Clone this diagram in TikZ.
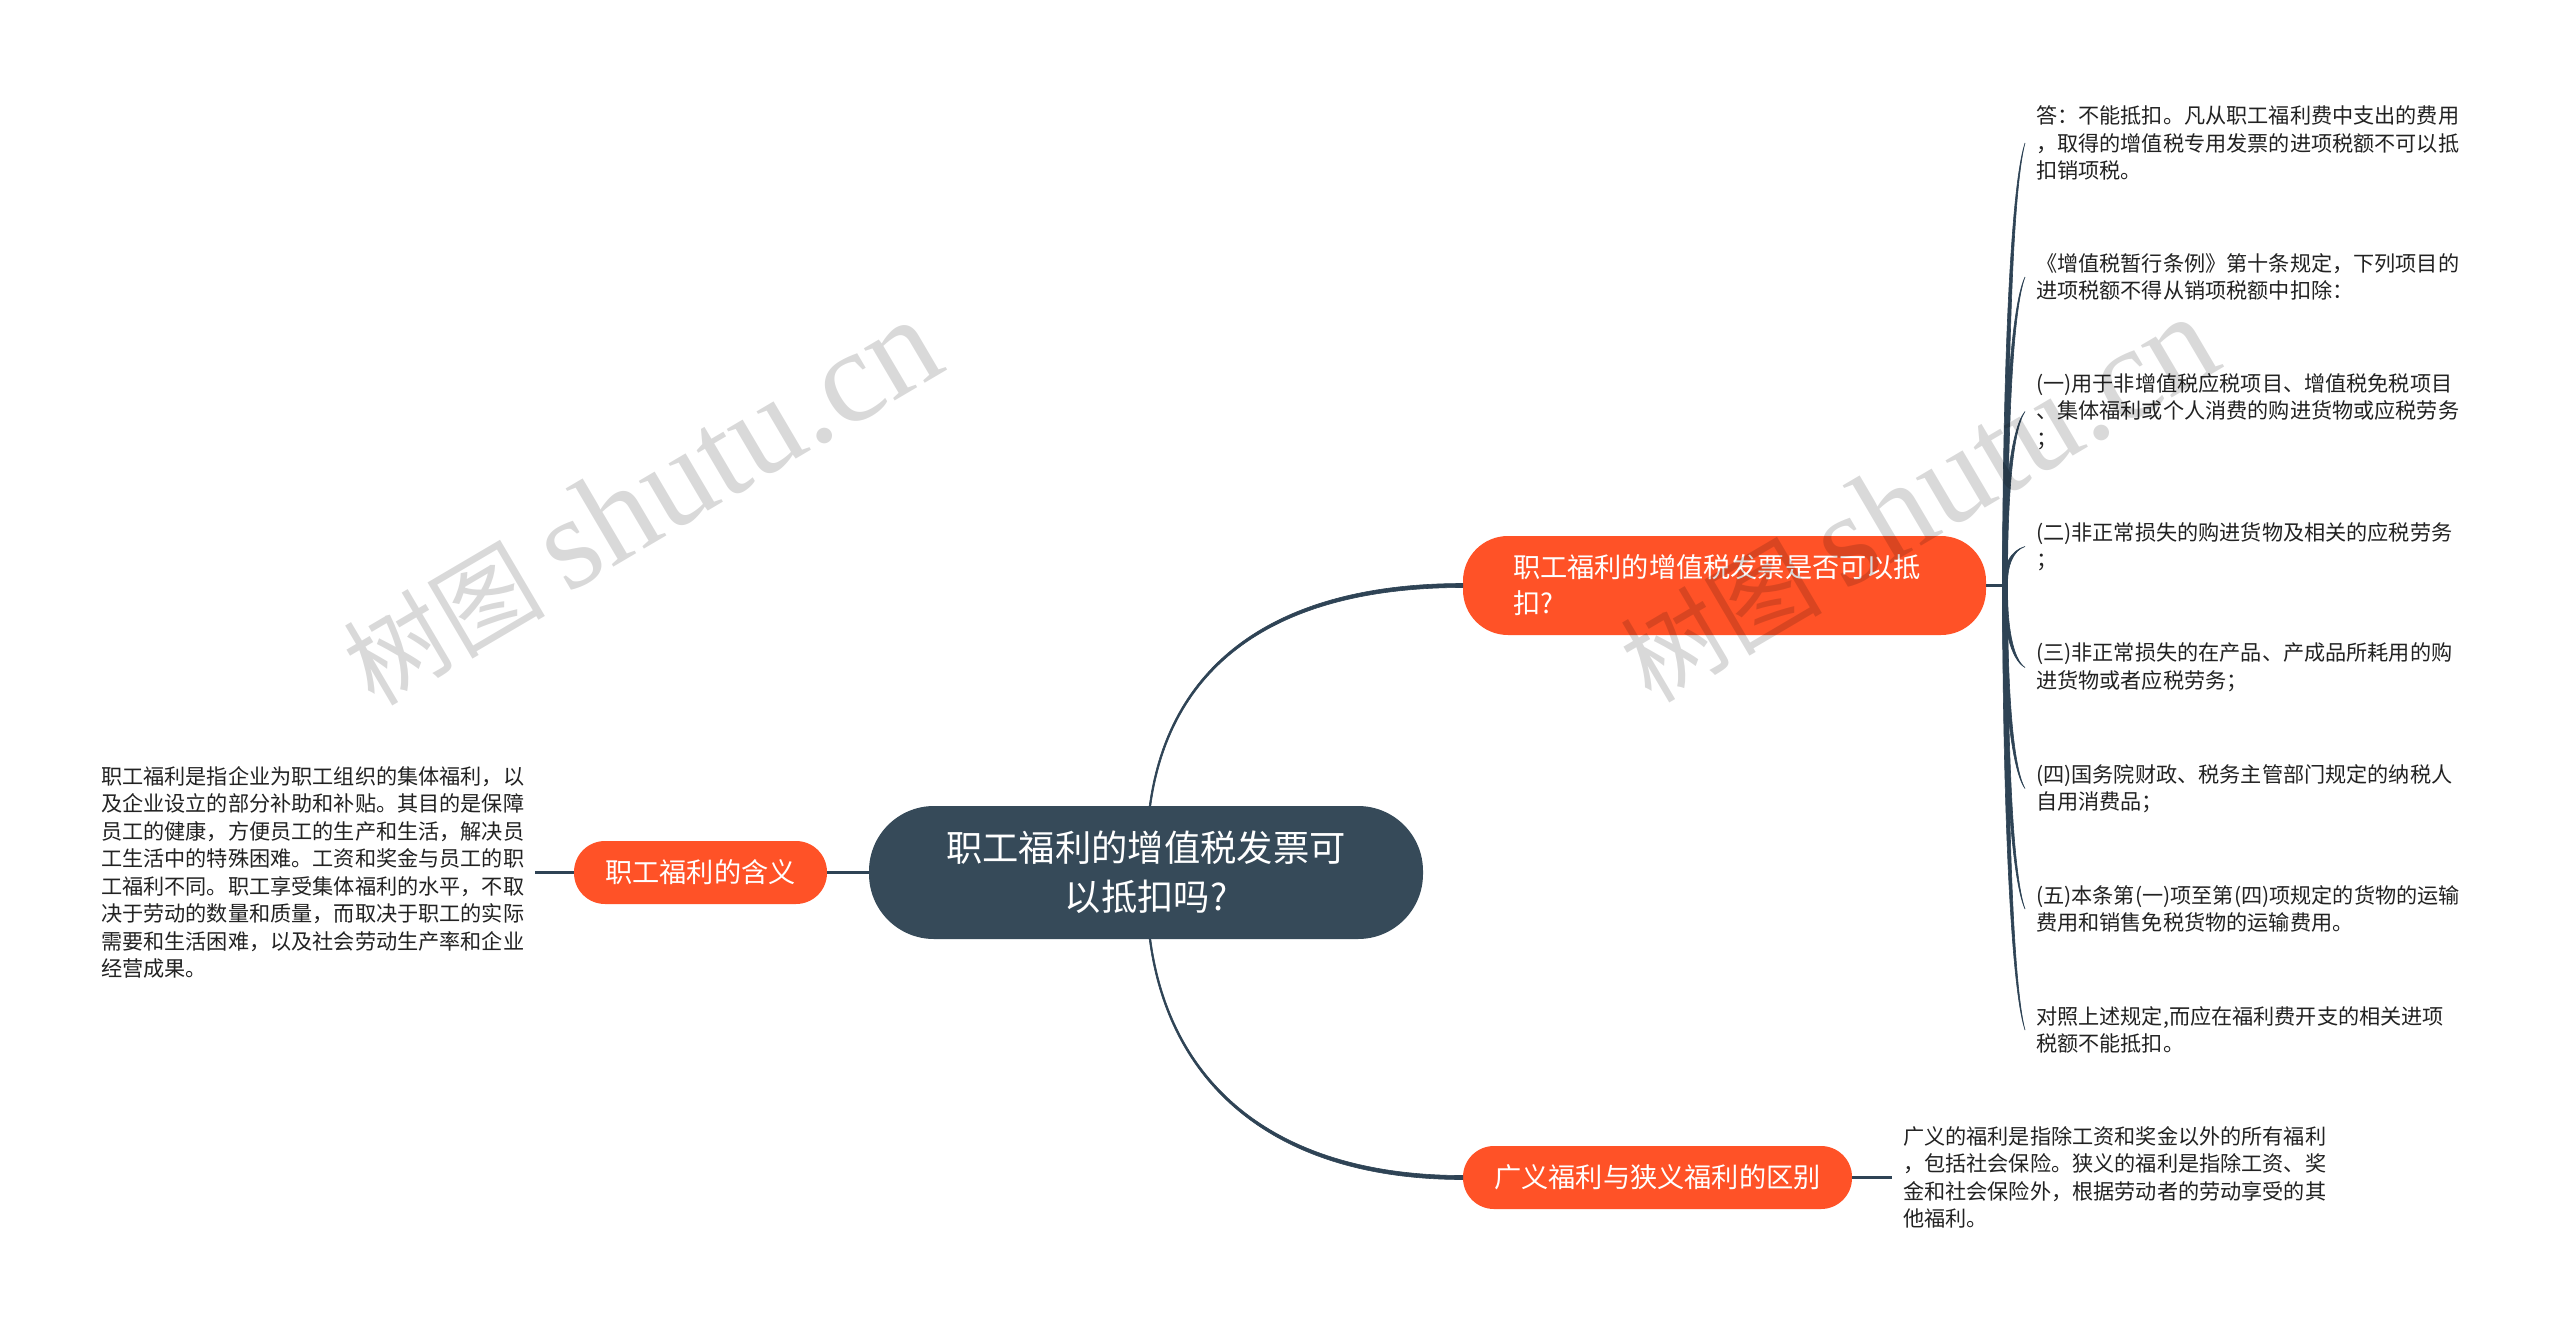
\documentclass[tikz,border=0pt]{standalone}
\usepackage{fontspec}
\setmainfont{Noto Sans CJK SC}
\newfontfamily\wmlat{Liberation Serif}
\usetikzlibrary{calc}
\definecolor{mainc}{HTML}{364A59}
\definecolor{orangec}{HTML}{FF5227}
\definecolor{linkc}{HTML}{2E4355}
\definecolor{leaftext}{HTML}{222222}
\tikzset{
  x=1pt,y=-1pt,
  rootnode/.style={fill=mainc,text=white,rectangle,rounded corners=65pt,minimum width=554pt,minimum height=133pt,inner sep=0pt,align=center,font=\fontsize{36.3}{49}\selectfont},
  topicwide/.style={fill=orangec,text=white,rectangle,rounded corners=45pt,text width=423pt,inner xsep=50pt,inner ysep=0pt,minimum height=99pt,align=left,font=\fontsize{27.2}{36}\selectfont},
  topic/.style={fill=orangec,text=white,rectangle,rounded corners=31pt,minimum height=63pt,inner sep=0pt,align=center,font=\fontsize{27.2}{36}\selectfont},
  leaf/.style={anchor=west,inner xsep=11pt,inner ysep=0pt,align=left,text=leaftext,font=\fontsize{21.15}{27.5}\selectfont},
  link/.style={fill=linkc,draw=linkc,line width=0.6pt},
  stub/.style={draw=linkc,line width=3.5pt},
  wmark/.style={text=black,text opacity=0.15,rotate=30.5,anchor=base west,inner sep=0pt,font=\fontsize{101}{130}\selectfont}
}
\newcommand{\wmtext}{树图\hspace{22pt}{\wmlat\fontsize{132}{132}\selectfont shutu.cn}}
\newcommand{\leaflink}[1]{%
  \fill[link] ($(hub)+(-2.6,0)$)
    .. controls ($(hub)!0.5!(hub|-#1.west)+(-2.0,0)$) and ($(hub|-#1.west)!0.1!(hub)+(5.5,0)$) .. (#1.west)
    .. controls ($(hub|-#1.west)!0.1!(hub)+(8,0)$) and ($(hub)!0.5!(hub|-#1.west)+(2.0,0)$) .. ($(hub)+(2.6,0)$) -- cycle;}
\begin{document}
\begin{tikzpicture}
\useasboundingbox (0,0) rectangle (2560,1333);
\fill[white] (0,0) rectangle (2560,1333);

\node[rootnode] (main) at (1146,872.5) {职工福利的增值税发票可\\以抵扣吗?};
\node[topicwide] (n1) at (1724.5,585.5) {职工福利的增值税发票是否可以抵\\扣?};
\node[topic,minimum width=253pt] (n3) at (700.5,872.5) {职工福利的含义};
\node[topic,minimum width=389pt] (n4) at (1657.5,1177.5) {广义福利与狭义福利的区别};

\node[leaf] (l1) at (2025,143) {答：不能抵扣。凡从职工福利费中支出的费用\\，取得的增值税专用发票的进项税额不可以抵\\扣销项税。};
\node[leaf] (l2) at (2025,277) {《增值税暂行条例》第十条规定，下列项目的\\进项税额不得从销项税额中扣除：};
\node[leaf] (l3) at (2025,411.5) {(一)用于非增值税应税项目、增值税免税项目\\、集体福利或个人消费的购进货物或应税劳务\\；};
\node[leaf] (l4) at (2025,546.5) {(二)非正常损失的购进货物及相关的应税劳务\\；};
\node[leaf] (l5) at (2025,667.5) {(三)非正常损失的在产品、产成品所耗用的购\\进货物或者应税劳务；};
\node[leaf] (l6) at (2025,788.5) {(四)国务院财政、税务主管部门规定的纳税人\\自用消费品；};
\node[leaf] (l7) at (2025,909) {(五)本条第(一)项至第(四)项规定的货物的运输\\费用和销售免税货物的运输费用。};
\node[leaf] (l8) at (2025,1030) {对照上述规定,而应在福利费开支的相关进项\\税额不能抵扣。};

\node[leaf,anchor=west] (d3) at (90,872.5) {职工福利是指企业为职工组织的集体福利，以\\及企业设立的部分补助和补贴。其目的是保障\\员工的健康，方便员工的生产和生活，解决员\\工生活中的特殊困难。工资和奖金与员工的职\\工福利不同。职工享受集体福利的水平，不取\\决于劳动的数量和质量，而取决于职工的实际\\需要和生活困难，以及社会劳动生产率和企业\\经营成果。};
\node[leaf] (d4) at (1892,1177.5) {广义的福利是指除工资和奖金以外的所有福利\\，包括社会保险。狭义的福利是指除工资、奖\\金和社会保险外，根据劳动者的劳动享受的其\\他福利。};

\coordinate (hub) at (2005,585.5);
\draw[stub] (n1.east) -- (hub);
\foreach \leafname in {l1,l2,l3,l4,l5,l6,l7,l8}{\leaflink{\leafname}}

\fill[link] ($(main.north)+(3.2,0)$) .. controls (1169,660) and (1280,583.5) .. ($(n1.west)+(0,-2)$)
  -- ($(n1.west)+(0,2)$) .. controls (1282,587.5) and (1171,660) .. ($(main.north)+(4.8,0)$) -- cycle;
\fill[link] ($(main.south)+(3.2,0)$) .. controls (1169,1090) and (1280,1179.5) .. ($(n4.west)+(0,2)$)
  -- ($(n4.west)+(0,-2)$) .. controls (1282,1175.5) and (1171,1090) .. ($(main.south)+(4.8,0)$) -- cycle;

\draw[stub] (main.west) -- (n3.east);
\draw[stub] (n3.west) -- (d3.east);
\draw[stub] (n4.east) -- (d4.west);

\node[wmark] (w1) at (374,708) {\wmtext};
\node[wmark] (w2) at (1651,705) {\wmtext};
\end{tikzpicture}
\end{document}
